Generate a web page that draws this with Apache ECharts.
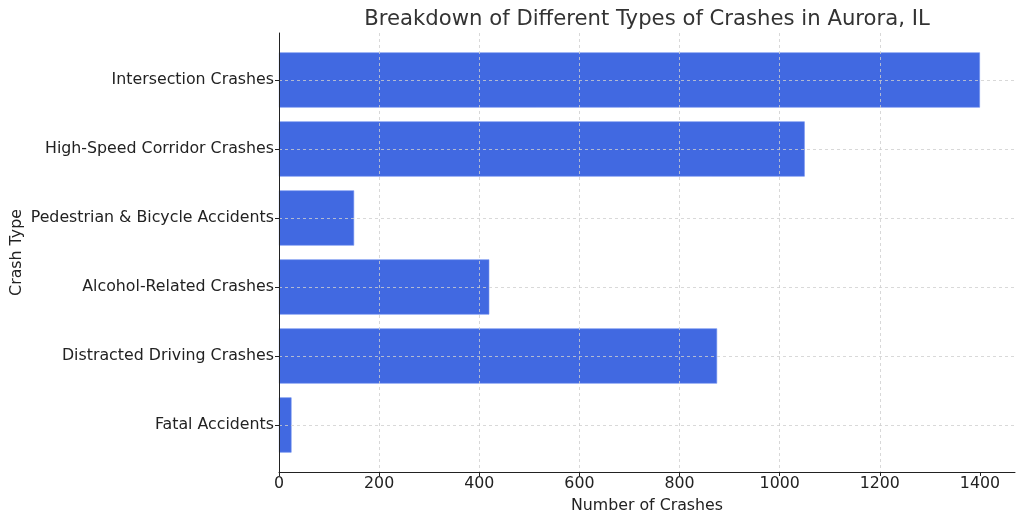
<!DOCTYPE html>
<html>
<head>
<meta charset="utf-8">
<script src="https://cdn.jsdelivr.net/npm/echarts@6/dist/echarts.min.js"></script>
<style>html,body{margin:0;padding:0;background:#fff}#c{width:1024px;height:523px}</style>
</head>
<body>
<div id="c"></div>
<script>
const categories = ["Fatal Accidents", "Distracted Driving Crashes", "Alcohol-Related Crashes", "Pedestrian & Bicycle Accidents", "High-Speed Corridor Crashes", "Intersection Crashes"];
const crashCounts = [25, 875, 420, 150, 1050, 1400];
const xTicks = [0, 200, 400, 600, 800, 1000, 1200, 1400];

const font = "DejaVu Sans";
const fs = 15.8;
const chart = echarts.init(document.getElementById('c'), null, {renderer: 'canvas'});
chart.setOption({
  animation: false,
  backgroundColor: '#fff',
  title: {
    text: 'Breakdown of Different Types of Crashes in Aurora, IL',
    left: 642, top: 4, textAlign: 'center',
    textStyle: {fontFamily: font, fontSize: 21.2, fontWeight: 'normal', color: '#333'}
  },
  grid: [
    {left: 279, right: 9, top: 45.5, bottom: 63.5, outerBoundsMode: 'none', containLabel: false},
    {left: 279, right: 9, top: 33, bottom: 51, outerBoundsMode: 'none', containLabel: false}
  ],
  xAxis: [
    {gridIndex: 0, type: 'value', min: 0, max: 1470, show: false},
    {gridIndex: 1, type: 'value', min: 0, max: 1470, z: 10,
      name: 'Number of Crashes', nameLocation: 'middle', nameGap: 26,
      nameTextStyle: {fontFamily: font, fontSize: fs, color: '#222'},
      axisLine: {show: true, onZero: false, lineStyle: {color: '#222', width: 1}},
      axisTick: {show: true, length: 4, customValues: xTicks, lineStyle: {color: '#222'}},
      axisLabel: {customValues: xTicks, formatter: v => String(v), fontFamily: font, fontSize: fs, color: '#222', margin: 4},
      splitLine: {show: true, showMaxLine: false, showMinLine: false, lineStyle: {type: [3, 3], color: '#cfcfcf', width: 0.8}}
    }
  ],
  yAxis: [
    {gridIndex: 0, type: 'category', data: categories, z: 10,
      axisLine: {show: false},
      axisTick: {show: true, alignWithLabel: true, length: 4, lineStyle: {color: '#222'}},
      axisLabel: {fontFamily: font, fontSize: fs, color: '#222', margin: 5},
      splitLine: {show: false}
    },
    {gridIndex: 1, type: 'value', min: 0, max: 1, z: 10,
      name: 'Crash Type', nameLocation: 'middle', nameGap: 254, nameRotate: 90,
      nameTextStyle: {fontFamily: font, fontSize: fs, color: '#222'},
      axisLine: {show: true, lineStyle: {color: '#222', width: 1}},
      axisTick: {show: false}, axisLabel: {show: false}, splitLine: {show: false}
    }
  ],
  series: [{
    type: 'bar', xAxisIndex: 0, yAxisIndex: 0,
    data: crashCounts, barWidth: '80%',
    itemStyle: {color: '#4169E1', borderColor: '#6f8ff0', borderWidth: 0.6},
    markLine: {
      silent: true, symbol: 'none', z: 5,
      label: {show: false},
      lineStyle: {type: [3, 3], color: '#cfcfcf', width: 0.8},
      data: categories.map(c => ({yAxis: c}))
    }
  }]
});
</script>
</body>
</html>
